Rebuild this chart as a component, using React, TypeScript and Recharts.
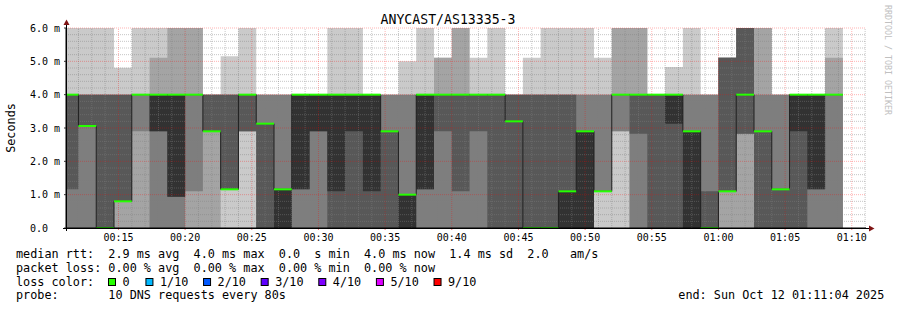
import { ComposedChart, Area, Line, XAxis, YAxis, ReferenceLine } from 'recharts'

const MONO = '"DejaVu Sans Mono", "Liberation Mono", monospace'

// graph window, local time
const windowStart = '00:11:04'
const windowEnd = '01:11:04'
const lastRoundEnd = '01:09:20'

// start of every 80s probe round
const roundStarts = [
  '00:10:40', '00:12:00', '00:13:20', '00:14:40', '00:16:00', '00:17:20', '00:18:40', '00:20:00',
  '00:21:20', '00:22:40', '00:24:00', '00:25:20', '00:26:40', '00:28:00', '00:29:20', '00:30:40',
  '00:32:00', '00:33:20', '00:34:40', '00:36:00', '00:37:20', '00:38:40', '00:40:00', '00:41:20',
  '00:42:40', '00:44:00', '00:45:20', '00:46:40', '00:48:00', '00:49:20', '00:50:40', '00:52:00',
  '00:53:20', '00:54:40', '00:56:00', '00:57:20', '00:58:40', '01:00:00', '01:01:20', '01:02:40',
  '01:04:00', '01:05:20', '01:06:40', '01:08:00',
]

// 10 sorted rtts (ms) per round
const sortedRtt = [
  [0, 0, 0, 1.16, 4, 4, 4, 4, 4, 6],
  [0, 0, 0, 3.06, 3.06, 3.06, 4, 4, 4, 6],
  [0, 0, 0, 0, 0, 0, 4, 4, 4, 6],
  [0, 0, 0.8, 0.8, 0.8, 0.8, 4, 4, 4, 4.81],
  [0, 0, 2.9, 4, 4, 4, 4, 4, 4, 6],
  [0, 0, 0, 2.9, 2.9, 4, 4, 4, 5.11, 6],
  [0, 0, 0, 0.94, 0.94, 4, 4, 4, 6, 6],
  [0, 0, 1.1, 4, 4, 4, 4, 4, 6, 6],
  [0, 0, 2.9, 2.9, 2.9, 2.9, 4, 4, 4, 4],
  [0, 1.16, 1.16, 1.16, 1.16, 1.16, 4, 4, 4, 5.15],
  [0, 2.9, 2.9, 2.9, 4, 4, 4, 4, 4, 6],
  [0, 0, 0, 0, 3.13, 3.13, 3.13, 4, 4, 4],
  [0, 0, 0, 0, 0, 1.16, 1.16, 4, 4, 4],
  [0, 0, 0, 1.16, 1.16, 4, 4, 4, 4, 4],
  [0, 0, 0, 2.9, 2.9, 4, 4, 4, 4, 4],
  [0, 0, 0, 0, 1.1, 4, 4, 4, 4, 6],
  [0, 0, 0, 0, 2.9, 4, 4, 4, 4, 6],
  [0, 0, 0, 0, 1.1, 4, 4, 4, 4, 4],
  [0, 0, 0, 0, 2.9, 2.9, 2.9, 4, 4, 4],
  [0, 0, 0, 0, 0, 1, 1, 4, 4, 5],
  [0, 0, 0, 1.16, 1.16, 4, 4, 4, 4, 6],
  [0, 0, 0, 2.9, 4, 4, 4, 4, 5.11, 5.11],
  [0, 0, 0, 1.1, 4, 4, 4, 4, 6, 6],
  [0, 0, 0, 2.9, 4, 4, 4, 4, 4, 5.11],
  [0, 0, 0, 0, 4, 4, 4, 4, 4, 6],
  [0, 0, 0, 0, 3.2, 3.2, 4, 4, 4, 4],
  [0, 0, 0, 0, 0, 0, 4, 4, 4, 5.11],
  [0, 0, 0, 0, 0, 0, 4, 4, 4, 6],
  [0, 0, 0, 0, 0, 1.1, 4, 4, 4, 6],
  [0, 0, 0, 0, 0, 2.9, 2.9, 4, 4, 6],
  [0, 1.1, 1.1, 1.1, 1.1, 1.1, 1.1, 4, 4, 5.11],
  [0, 2.9, 2.9, 4, 4, 4, 4, 4, 6, 6],
  [0, 0, 0, 2.83, 4, 4, 4, 4, 6, 6],
  [0, 0, 0, 0, 4, 4, 4, 4, 4, 4],
  [0, 0, 0, 0, 3.13, 4, 4, 4, 4, 4.83],
  [0, 0, 0, 0, 0, 2.9, 2.9, 4, 4, 6],
  [0, 0, 0, 0, 0, 0, 1.1, 4, 4, 4],
  [0, 0, 1.1, 1.1, 1.1, 1.1, 5.11, 5.11, 5.11, 5.11],
  [0, 0, 2.83, 2.83, 4, 4, 6, 6, 6, 6],
  [0, 0, 0, 0, 2.9, 2.9, 2.9, 4, 6, 6],
  [0, 0, 0, 0, 1.16, 1.16, 1.16, 4, 4, 4],
  [0, 0, 0, 0, 2.9, 4, 4, 4, 4, 4],
  [0, 0, 0, 1.16, 1.16, 4, 4, 4, 4, 4],
  [0, 0, 0, 4, 4, 4, 4, 4, 5.11, 6],
]

// median rtt (ms) per round, all with 0 loss
const medianRtt = [
  4, 3.06, 0, 0.8, 4, 4, 4, 4, 2.9, 1.16, 4, 3.13, 1.16, 4, 4, 4, 4, 4, 2.9, 1,
  4, 4, 4, 4, 4, 3.2, 0, 0, 1.1, 2.9, 1.1, 4, 4, 4, 4, 2.9, 0, 1.1, 4, 2.9,
  1.16, 4, 4, 4,
]

const timeTicks = ['00:15', '00:20', '00:25', '00:30', '00:35', '00:40', '00:45', '00:50', '00:55', '01:00', '01:05', '01:10']
const rttTicks = [0, 1, 2, 3, 4, 5, 6]

// outer pair (ping1/ping10) lightest, inner pair (ping5/ping6) darkest
const smokeColors = ['#cacaca', '#a4a4a4', '#7e7e7e', '#585858', '#323232']

const lossLabels = ['0', '1/10', '2/10', '3/10', '4/10', '5/10', '9/10']
const lossColors = ['#26ff00', '#00b8ff', '#0059ff', '#5e00ff', '#7e00ff', '#dd00ff', '#ff0000']

const statLines = [
  'median rtt:  2.9 ms avg  4.0 ms max  0.0  s min  4.0 ms now  1.4 ms sd  2.0   am/s',
  'packet loss: 0.00 % avg  0.00 % max  0.00 % min  0.00 % now',
]
const probeLine = 'probe:       10 DNS requests every 80s'
const endLine = 'end: Sun Oct 12 01:11:04 2025'

const toSec = (s: string) => {
  const [h, m, sec = '0'] = s.split(':')
  return Number(h) * 3600 + Number(m) * 60 + Number(sec)
}
const t0 = toSec(windowStart)
const rel = (s: string) => toSec(s) - t0
const span = rel(windowEnd)

const rows = roundStarts.map((s, i) => {
  const p = sortedRtt[i]
  return {
    t: rel(s),
    band0: [p[0], p[9]],
    band1: [p[1], p[8]],
    band2: [p[2], p[7]],
    band3: [p[3], p[6]],
    band4: [p[4], p[5]],
    median: medianRtt[i],
  }
})
const data = [...rows, { ...rows[rows.length - 1], t: rel(lastRoundEnd) }]
const roundEnds = data.slice(1).map((d) => d.t)

const majorX = timeTicks.map(rel)
const minorX: number[] = []
for (let t = rel('00:12'); t < span; t += 60) if (!majorX.includes(t)) minorX.push(t)
const minorY: number[] = []
for (let i = 1; i < 30; i++) if (i % 5 !== 0) minorY.push(i / 5)

const minorStroke = 'rgba(128,128,128,0.45)'
const majorStroke = 'rgba(255,0,0,0.3)'

function RttTick({ x, y, payload }: any) {
  const v = payload.value
  return (
    <text x={x - 32} y={y} dy="0.35em" fontFamily={MONO} fontSize={10} fill="#000">
      {v === 0 ? '0.0' : `${v.toFixed(1)} m`}
    </text>
  )
}

const fmtTime = (t: number) => {
  const s = t + t0
  const h = Math.floor(s / 3600)
  const m = Math.floor((s % 3600) / 60)
  return `${String(h).padStart(2, '0')}:${String(m).padStart(2, '0')}`
}

const legendText = { fontFamily: MONO, fontSize: 11.8, fill: '#000', xmlSpace: 'preserve', style: { whiteSpace: 'pre' } } as any

export default function App() {
  let swatchX = 108
  const swatches = lossLabels.map((label, i) => {
    const x = swatchX
    swatchX += 30.7 + label.length * 6.73
    return (
      <g key={label}>
        <rect x={x + 0.5} y={278.5} width={7} height={7} fill={lossColors[i]} stroke="#000" strokeWidth={1} />
        <text x={x + 14.5} y={285.7} {...legendText}>{label}</text>
      </g>
    )
  })

  return (
    <div style={{ position: 'absolute', left: 0, top: 0, width: 897, height: 310, background: '#fff' }}>
      <ComposedChart width={897} height={310} data={data} margin={{ top: 28, right: 31, bottom: 62, left: 16 }}>
        <XAxis
          dataKey="t"
          type="number"
          domain={[0, span]}
          allowDataOverflow
          ticks={majorX}
          tickFormatter={fmtTime}
          height={20}
          tick={{ fontFamily: MONO, fontSize: 10, fill: '#000' }}
          axisLine={{ stroke: '#000' }}
          tickLine={{ stroke: '#f08080' }}
          tickSize={2}
          tickMargin={4}
        />
        <YAxis
          type="number"
          domain={[0, 6]}
          ticks={rttTicks}
          width={50}
          tick={<RttTick />}
          axisLine={{ stroke: '#000' }}
          tickLine={{ stroke: '#333' }}
          tickSize={2}
          tickMargin={2}
        />
        {smokeColors.map((c, k) => (
          <Area
            key={c}
            dataKey={`band${k}`}
            type="stepAfter"
            fill={c}
            fillOpacity={1}
            stroke="none"
            isAnimationActive={false}
            activeDot={false}
          />
        ))}
        {minorX.map((t) => (
          <ReferenceLine key={`mx${t}`} x={t} stroke={minorStroke} strokeDasharray="1 1" />
        ))}
        {minorY.map((v) => (
          <ReferenceLine key={`my${v}`} y={v} stroke={minorStroke} strokeDasharray="1 1" />
        ))}
        {majorX.map((t) => (
          <ReferenceLine key={`Mx${t}`} x={t} stroke={majorStroke} strokeDasharray="1 1" />
        ))}
        {rttTicks.slice(1).map((v) => (
          <ReferenceLine key={`My${v}`} y={v} stroke={majorStroke} strokeDasharray="1 1" />
        ))}
        <Line
          dataKey="median"
          type="stepAfter"
          stroke="#202020"
          strokeWidth={1}
          dot={false}
          activeDot={false}
          isAnimationActive={false}
        />
        {medianRtt.map((m, i) => (
          <ReferenceLine
            key={`med${i}`}
            segment={[{ x: rows[i].t, y: m }, { x: roundEnds[i], y: m }]}
            stroke={lossColors[0]}
            strokeWidth={2}
            ifOverflow="hidden"
          />
        ))}
      </ComposedChart>

      <svg width={897} height={310} style={{ position: 'absolute', left: 0, top: 0, pointerEvents: 'none' }}>
        <text x={448} y={24} textAnchor="middle" fontFamily={MONO} fontSize={13.2} fill="#000">
          ANYCAST/AS13335-3
        </text>
        <text x={15} y={128} textAnchor="middle" transform="rotate(-90 15 128)" fontFamily={MONO} fontSize={11.8} fill="#000">
          Seconds
        </text>
        <text x={885} y={5} transform="rotate(90 885 5)" fontFamily={MONO} fontSize={8.3} fill="#c0c0c0">
          RRDTOOL / TOBI OETIKER
        </text>
        {/* axis stubs and arrows */}
        <line x1={66.5} y1={231} x2={66.5} y2={24} stroke="#000" />
        <line x1={63} y1={228.5} x2={870} y2={228.5} stroke="#000" />
        <polygon points="63.5,25 69.5,25 66.5,19.5" fill="#7f1414" />
        <polygon points="869,225.5 869,231.5 874.5,228.5" fill="#7f1414" />
        <text x={16} y={258.3} {...legendText}>{statLines[0]}</text>
        <text x={16} y={271.7} {...legendText}>{statLines[1]}</text>
        <text x={16} y={285.7} {...legendText}>loss color:</text>
        <text x={16} y={299.3} {...legendText}>{probeLine}</text>
        <text x={678.3} y={299.3} {...legendText}>{endLine}</text>
        {swatches}
      </svg>
    </div>
  )
}
